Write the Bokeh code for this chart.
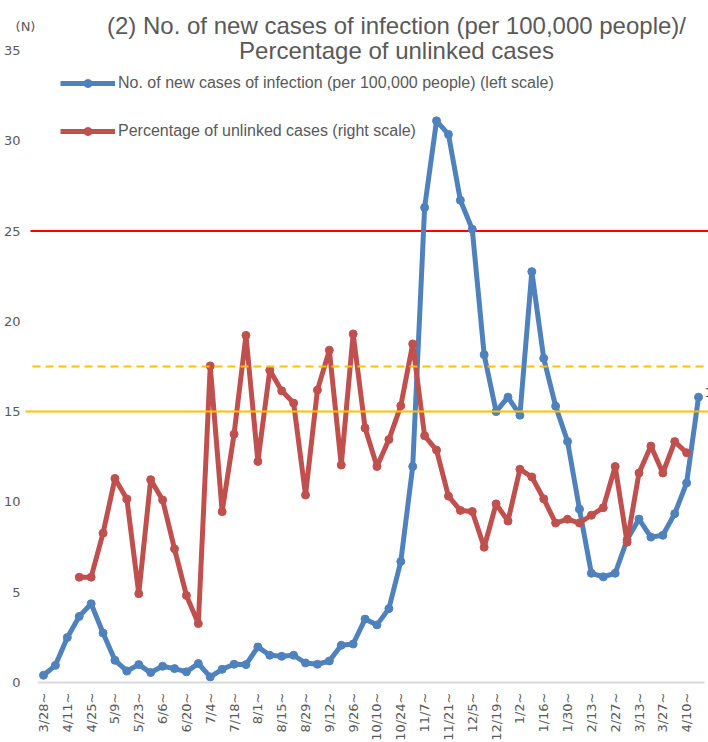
import math
from bokeh.plotting import figure
from bokeh.models import Range1d, FixedTicker, Label, Legend, LegendItem, ColumnDataSource
from bokeh.embed import file_html
from bokeh.resources import INLINE
from bokeh.core.properties import value

NaN = float("nan")

# ---- data -------------------------------------------------------------
tick_labels = ["3/28~", "4/11~", "4/25~", "5/9~", "5/23~", "6/6~", "6/20~",
               "7/4~", "7/18~", "8/1~", "8/15~", "8/29~", "9/12~", "9/26~",
               "10/10~", "10/24~", "11/7~", "11/21~", "12/5~", "12/19~",
               "1/2~", "1/16~", "1/30~", "2/13~", "2/27~", "3/13~", "3/27~",
               "4/10~"]

new_cases = [0.40, 0.95, 2.49, 3.66, 4.36, 2.74, 1.23, 0.64, 0.99, 0.55,
             0.90, 0.77, 0.59, 1.05, 0.31, 0.73, 1.01, 0.99, 1.97, 1.51,
             1.45, 1.51, 1.08, 1.01, 1.19, 2.06, 2.13, 3.51, 3.19, 4.09,
             6.70, 11.96, 26.3, 31.1, 30.35, 26.7, 25.1, 18.15, 15.0, 15.8,
             14.8, 22.75, 17.95, 15.3, 13.35, 9.6, 6.05, 5.85, 6.05, 7.9,
             9.05, 8.05, 8.15, 9.35, 11.05, 15.8]

unlinked = [NaN, NaN, NaN, 5.83, 5.83, 8.27, 11.30, 10.16, 4.92, 11.23,
            10.11, 7.40, 4.82, 3.26, 17.53, 9.46, 13.75, 19.22, 12.24, 17.29,
            16.15, 15.47, 10.38, 16.19, 18.40, 12.04, 19.30, 14.09, 11.96, 13.45,
            15.32, 18.75, 13.66, 12.87, 10.32, 9.53, 9.47, 7.49, 9.89, 8.94,
            11.81, 11.38, 10.17, 8.83, 9.04, 8.83, 9.26, 9.68, 11.96, 7.77,
            11.60, 13.09, 11.60, 13.34, 12.72, NaN]

y_ticks = [0, 5, 10, 15, 20, 25, 30, 35]
level_red = 25
level_orange = 15
level_orange_dashed = 17.5

series_labels = ["No. of new cases of infection (per 100,000 people) (left scale)",
                 "Percentage of unlinked cases (right scale)"]
title_lines = ["(2) No. of new cases of infection (per 100,000 people)/",
               "Percentage of unlinked cases"]
unit_label = "(N)"

# ---- layout -----------------------------------------------------------
W, H = 708, 742
BL = 2                  # left border (px)
PPX = 11.91             # px per week
PPY = 18.06             # px per unit
X0_PX = 43              # px of first category
Y0_PX = 682             # px of value 0

xs = -(X0_PX - BL) / PPX
xe = xs + (W - BL) / PPX
ys = -(H - Y0_PX) / PPY
ye = Y0_PX / PPY


def dx(px):
    return xs + (px - BL) / PPX


def dy(py):
    return (Y0_PX - py) / PPY


GREY = "#595959"
BLUE = "#4F81BD"
RED = "#C0504D"
ORANGE = "#FFC000"

p = figure(width=W, height=H, output_backend="svg", toolbar_location=None,
           x_range=Range1d(xs, xe), y_range=Range1d(ys, ye),
           x_axis_location=None,
           min_border_left=BL, min_border_right=0,
           min_border_top=0, min_border_bottom=0)
p.outline_line_color = None
p.xgrid.visible = False
p.ygrid.visible = False
p.background_fill_color = "white"

ax = p.yaxis[0]
ax.ticker = FixedTicker(ticks=y_ticks)
ax.axis_line_color = None
ax.major_tick_line_color = None
ax.minor_tick_line_color = None
ax.major_tick_out = 0
ax.major_tick_in = 0
ax.minor_tick_out = 0
ax.minor_tick_in = 0
ax.major_label_standoff = -18
ax.major_label_text_font = "DejaVu Sans"
ax.major_label_text_font_size = "13px"
ax.major_label_text_color = GREY

n = len(new_cases)

# red threshold line (behind the series)
p.segment(x0=[dx(30)], y0=[level_red], x1=[xe], y1=[level_red],
          line_color="#FF0000", line_width=2)

# category baseline
p.segment(x0=[-0.5], y0=[0], x1=[n - 0.5], y1=[0], line_color="#D9D9D9", line_width=2)

x = list(range(n))
bl = p.line(x, new_cases, line_color=BLUE, line_width=5, line_join="round")
bs = p.scatter(x, new_cases, size=8, fill_color=BLUE, line_color=BLUE)
rl = p.line(x, unlinked, line_color=RED, line_width=5, line_join="round")
rs = p.scatter(x, unlinked, size=8, fill_color=RED, line_color=RED)

# orange threshold lines
p.segment(x0=[dx(25)], y0=[level_orange], x1=[xe], y1=[level_orange],
          line_color=ORANGE, line_width=2)
p.segment(x0=[dx(32)], y0=[level_orange_dashed], x1=[xe], y1=[level_orange_dashed],
          line_color=ORANGE, line_width=2, line_dash="8 5")

# x category labels
tick_idx = list(range(0, n, 2))[:len(tick_labels)]
src = ColumnDataSource(dict(x=tick_idx, y=[0] * len(tick_idx), t=tick_labels))
p.text(x="x", y="y", text="t", source=src, angle=math.pi / 2,
       text_align="right", text_baseline="middle", y_offset=10,
       text_font=value("DejaVu Sans"), text_font_size="13px", text_color=GREY)

# last data label (clipped at right edge)
p.text(x=[n - 1], y=[new_cases[-1]], text=[f"{new_cases[-1]}"], x_offset=6, y_offset=-5,
       text_align="left", text_baseline="middle",
       text_font=value("DejaVu Sans"), text_font_size="13px", text_color="#404040")

# title and unit
for txt, py in zip(title_lines, [25, 50]):
    p.add_layout(Label(x=dx(396), y=dy(py), text=txt, text_align="center",
                       text_baseline="middle", text_font="Liberation Sans",
                       text_font_size="24px", text_color=GREY))
p.add_layout(Label(x=dx(25), y=dy(26), text=unit_label, text_align="center",
                   text_baseline="middle", text_font="DejaVu Sans",
                   text_font_size="13px", text_color=GREY))

legend = Legend(items=[LegendItem(label=series_labels[0], renderers=[bl, bs]),
                       LegendItem(label=series_labels[1], renderers=[rl, rs])],
                location=(60 - BL, H - 141),
                orientation="vertical", glyph_width=55, glyph_height=20,
                label_height=20, spacing=28, padding=0, margin=0,
                label_standoff=3, border_line_color=None,
                background_fill_alpha=0, label_text_font="Liberation Sans",
                label_text_font_size="16px", label_text_color=GREY)
p.add_layout(legend)

open("out.html", "w").write(file_html(p, INLINE))
